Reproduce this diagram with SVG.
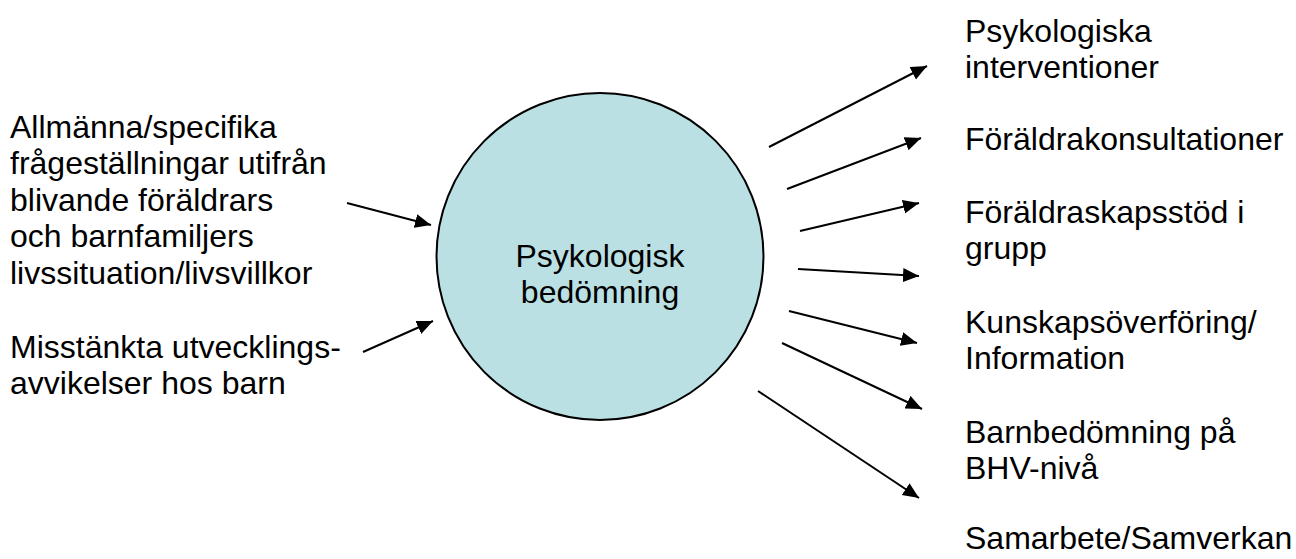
<svg xmlns="http://www.w3.org/2000/svg" width="1296" height="559" viewBox="0 0 1296 559">
<style>
text{font-family:"Liberation Sans",Arial,sans-serif;font-size:32px;fill:#000}
.c{stroke:#000;stroke-width:2;fill:none;marker-end:url(#ah)}
</style>
<defs>
<marker id="ah" markerUnits="userSpaceOnUse" markerWidth="17" markerHeight="15" refX="16" refY="7" orient="auto">
<path d="M0,0 L16,7 L0,14 z" fill="#000"/>
</marker>
</defs>
<rect width="1296" height="559" fill="#fff"/>
<g id="center">
<circle cx="600" cy="256.5" r="163.5" fill="#BBE0E3" stroke="#000" stroke-width="2"/>
<text x="600" y="267" text-anchor="middle">Psykologisk</text>
<text x="600" y="303" text-anchor="middle">bedömning</text>
</g>
<g id="in1">
<text x="10" y="138">Allmänna/specifika</text>
<text x="10" y="174">frågeställningar utifrån</text>
<text x="10" y="211">blivande föräldrars</text>
<text x="10" y="247">och barnfamiljers</text>
<text x="10" y="284">livssituation/livsvillkor</text>
</g>
<g id="in2">
<text x="10" y="358">Misstänkta utvecklings-</text>
<text x="10" y="394">avvikelser hos barn</text>
</g>
<g id="out1">
<text x="965" y="42">Psykologiska</text>
<text x="965" y="78">interventioner</text>
</g>
<g id="out2">
<text x="965" y="150">Föräldrakonsultationer</text>
</g>
<g id="out3">
<text x="965" y="223">Föräldraskapsstöd i</text>
<text x="965" y="259">grupp</text>
</g>
<g id="out4">
<text x="965" y="333">Kunskapsöverföring/</text>
<text x="965" y="369">Information</text>
</g>
<g id="out5">
<text x="965" y="443">Barnbedömning på</text>
<text x="965" y="479">BHV-nivå</text>
</g>
<g id="out6">
<text x="965" y="549">Samarbete/Samverkan</text>
</g>
<g id="connectors">
<line class="c" x1="347" y1="203" x2="431" y2="225"/>
<line class="c" x1="363" y1="352" x2="433" y2="321"/>
<line class="c" x1="769" y1="147" x2="927" y2="66"/>
<line class="c" x1="787" y1="189" x2="921" y2="138"/>
<line class="c" x1="800" y1="231" x2="919" y2="203"/>
<line class="c" x1="798" y1="269" x2="919" y2="276"/>
<line class="c" x1="789" y1="311" x2="917" y2="343"/>
<line class="c" x1="782" y1="343" x2="922" y2="409"/>
<line class="c" x1="758" y1="391" x2="919" y2="498"/>
</g>
</svg>
